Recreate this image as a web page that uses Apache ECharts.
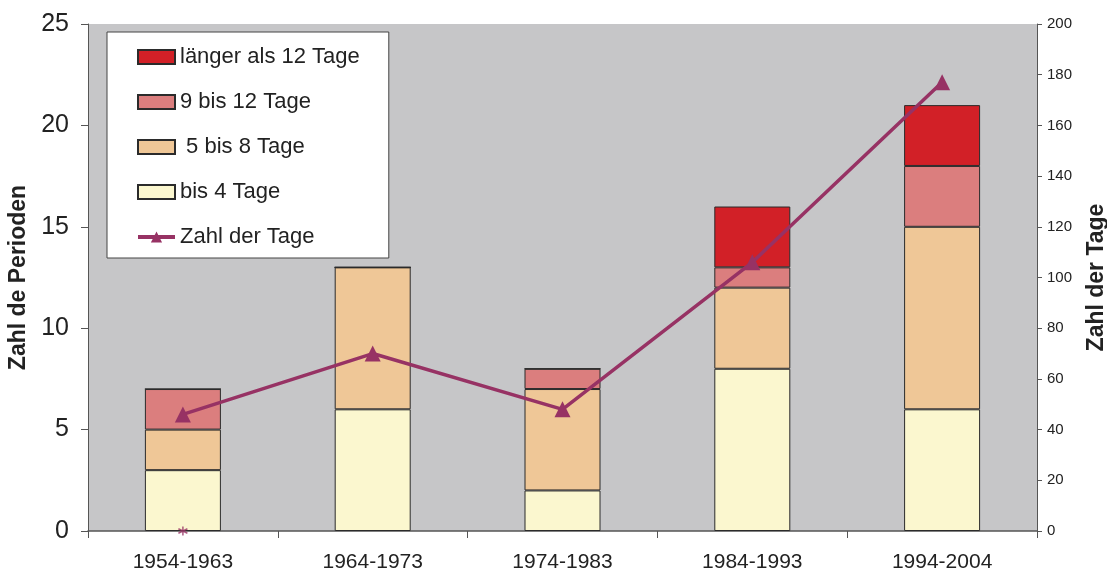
<!DOCTYPE html>
<html>
<head>
<meta charset="utf-8">
<script src="https://cdn.jsdelivr.net/npm/echarts@6/dist/echarts.min.js"></script>
<style>
  html, body { margin: 0; padding: 0; background: #fff; }
  #chart { width: 1107px; height: 572px; }
</style>
</head>
<body>
<div id="chart"></div>
<script>
// Zeiträume
var perioden = ['1954-1963', '1964-1973', '1974-1983', '1984-1993', '1994-2004'];

// Anzahl Perioden je Dauer (gestapelt)
var bis4 = [3, 6, 2, 8, 6];
var bis8 = [2, 7, 5, 4, 9];
var bis12 = [2, 0, 1, 1, 3];
var laenger12 = [0, 0, 0, 3, 3];

// Zahl der Tage (rechte Achse)
var tage = [46, 70, 48, 106, 177];

// kleiner Marker unten im ersten Balken
var stern = [[0, 0]];

var font = 'Liberation Sans, Arial, sans-serif';
var rand = { color: '#2b2b2b', borderWidth: 1 };

function barSerie(name, data, color) {
    return {
        name: name,
        type: 'bar',
        stack: 'a',
        barWidth: 76,
        data: data,
        itemStyle: { color: color, borderColor: rand.color, borderWidth: rand.borderWidth },
        emphasis: { disabled: true }
    };
}

var option = {
    animation: false,
    textStyle: { fontFamily: font },
    grid: {
        left: 88, right: 70, top: 24, bottom: 41,
        outerBoundsMode: 'none',
        containLabel: false,
        show: true, backgroundColor: '#c6c6c8', borderWidth: 0
    },
    legend: {
        orient: 'vertical',
        left: 107,
        top: 32,
        padding: [14, 29, 10, 29],
        itemGap: 23,
        itemWidth: 37,
        itemHeight: 14,
        backgroundColor: '#ffffff',
        borderColor: '#444',
        borderWidth: 1,
        textStyle: { fontSize: 22, color: '#222', fontFamily: font },
        data: [
            { name: 'länger als 12 Tage', icon: 'rect' },
            { name: '9 bis 12 Tage', icon: 'rect' },
            { name: ' 5 bis 8 Tage', icon: 'rect' },
            { name: 'bis 4 Tage', icon: 'rect' },
            { name: 'Zahl der Tage', lineStyle: { width: 4 } }
        ]
    },
    xAxis: {
        type: 'category',
        data: perioden,
        axisLine: { lineStyle: { color: '#555', width: 1.5 } },
        axisTick: { show: true, length: 7, lineStyle: { color: '#555' } },
        axisLabel: { fontSize: 21, color: '#222', margin: 21 }
    },
    yAxis: [
        {
            type: 'value',
            min: 0, max: 25, interval: 5,
            name: 'Zahl de Perioden',
            nameLocation: 'middle',
            nameGap: 54,
            nameRotate: 90,
            nameTextStyle: { fontSize: 23, fontWeight: 'bold', color: '#222' },
            axisLine: { show: true, lineStyle: { color: '#555' } },
            axisTick: { show: true, length: 7, lineStyle: { color: '#555' } },
            axisLabel: { fontSize: 25, color: '#222', margin: 19 },
            splitLine: { show: false }
        },
        {
            type: 'value',
            min: 0, max: 200, interval: 20,
            name: 'Zahl der Tage',
            nameLocation: 'middle',
            nameGap: 48,
            nameRotate: 90,
            nameTextStyle: { fontSize: 23, fontWeight: 'bold', color: '#222' },
            axisLine: { show: true, lineStyle: { color: '#555' } },
            axisTick: { show: true, length: 5, lineStyle: { color: '#555' } },
            axisLabel: { fontSize: 15, color: '#222', margin: 10 },
            splitLine: { show: false }
        }
    ],
    series: [
        barSerie('bis 4 Tage', bis4, '#fbf7cf'),
        barSerie(' 5 bis 8 Tage', bis8, '#efc797'),
        barSerie('9 bis 12 Tage', bis12, '#db7e7e'),
        barSerie('länger als 12 Tage', laenger12, '#d22027'),
        {
            name: 'Zahl der Tage',
            type: 'line',
            yAxisIndex: 1,
            data: tage,
            symbol: 'triangle',
            symbolSize: 16,
            lineStyle: { color: '#973264', width: 3.5 },
            itemStyle: { color: '#973264' },
            emphasis: { disabled: true }
        },
        {
            name: 'stern',
            type: 'scatter',
            yAxisIndex: 1,
            data: stern,
            symbol: 'path://M0,-5L0,5M-4.3,-2.5L4.3,2.5M-4.3,2.5L4.3,-2.5',
            symbolSize: 9,
            itemStyle: { color: 'none', borderColor: '#973264', borderWidth: 1.5 },
            emphasis: { disabled: true }
        }
    ]
};

echarts.init(document.getElementById('chart')).setOption(option);
</script>
</body>
</html>
